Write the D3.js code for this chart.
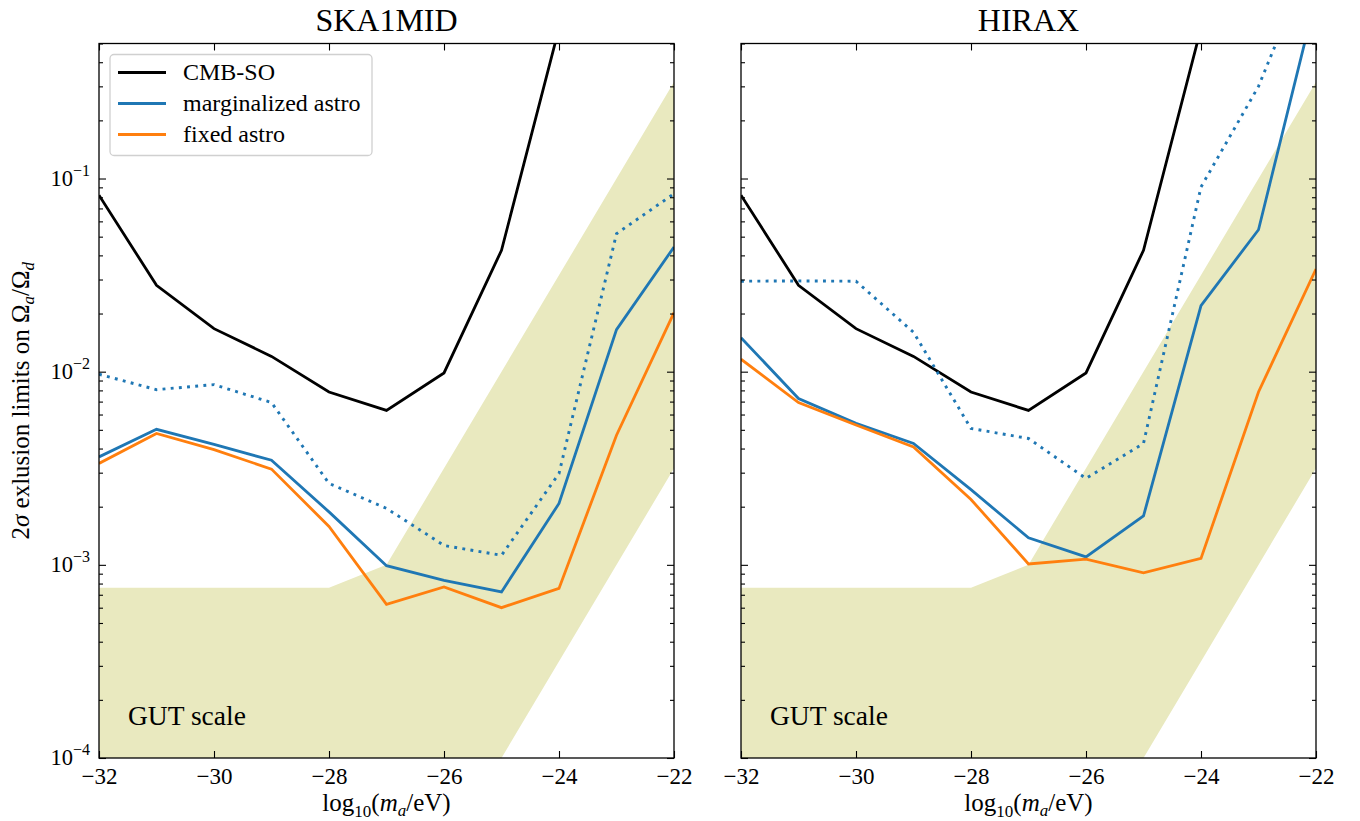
<!DOCTYPE html>
<html><head><meta charset="utf-8">
<script src="https://cdn.jsdelivr.net/npm/d3@7"></script>
<style>
body{margin:0;background:#fff;}
svg text{font-family:"Liberation Serif","DejaVu Serif",serif;fill:#000;}
</style></head>
<body><svg id="c" width="1360" height="821"></svg>
<script>
// ---------- data ----------
const masses = [-32,-31,-30,-29,-28,-27,-26,-25,-24,-23,-22];
const cmbMasses = [-32,-31,-30,-29,-28,-27,-26,-25,-24];
const cmbSO = [0.082,0.028,0.0167,0.0120,0.00785,0.0063,0.00985,0.0425,0.6];

const skaMarg   = [0.00362,0.00503,0.0042,0.00348,0.00188,0.00099,0.00083,0.000724,0.00208,0.0165,0.0442];
const skaFixed  = [0.00335,0.00479,0.00395,0.00313,0.00158,0.000624,0.000769,0.0006,0.000755,0.00469,0.0202];
const skaDotted = [0.0097,0.00807,0.00857,0.00692,0.00264,0.00196,0.00126,0.00112,0.00297,0.0518,0.0834];

const hiraxMarg   = [0.015,0.00726,0.0054,0.00425,0.00245,0.00138,0.0011,0.00179,0.022,0.0543,0.87];
const hiraxFixed  = [0.0116,0.00692,0.0053,0.00408,0.00218,0.00101,0.00107,0.00091,0.00108,0.00785,0.034];
const hiraxDotted = [0.0294,0.0295,0.0294,0.016,0.00508,0.00451,0.0028,0.00425,0.0904,0.30,1.6];

const gutX = [-32,-32,-28,-27,-22,-22,-25];
const gutY = [0.0001,0.00076,0.00076,0.001,0.316,0.00316,0.0001];

const xTicks = [-32,-30,-28,-26,-24,-22];
const yTicks = [1e-4,1e-3,1e-2,1e-1];
const yTickExp = ["\u22124","\u22123","\u22122","\u22121"];
const titles = ["SKA1MID","HIRAX"];
const legendLabels = ["CMB-SO","marginalized astro","fixed astro"];
const colors = {cmb:"#000000", marg:"#1f77b4", fixed:"#ff7f0e", gut:"#e9e9bf"};

// ---------- layout ----------
const svg = d3.select("#c");
const plotTop = 43.5, plotBottom = 758, pw = 575;
const panelLefts = [99, 741];
const ph = plotBottom-plotTop;
const x = d3.scaleLinear().domain([-32,-22]).range([0,pw]);
const y = d3.scaleLog().domain([1e-4,0.5]).range([ph,0]);

const panels = [
  {marg:skaMarg, fixed:skaFixed, dotted:skaDotted},
  {marg:hiraxMarg, fixed:hiraxFixed, dotted:hiraxDotted}
];

const line = d3.line().x(d=>x(d[0])).y(d=>y(d[1]));
const LW = 2.8;

panels.forEach((p,i)=>{
  const g = svg.append("g").attr("transform",`translate(${panelLefts[i]},${plotTop})`);
  const cid = "clip"+i;
  g.append("clipPath").attr("id",cid).append("rect").attr("width",pw).attr("height",ph);
  const pg = g.append("g").attr("clip-path",`url(#${cid})`);

  pg.append("path")
    .attr("d", line(gutX.map((v,k)=>[v,gutY[k]]))+"Z")
    .attr("fill",colors.gut).attr("stroke","none");

  pg.append("path").attr("d",line(cmbMasses.map((m,k)=>[m,cmbSO[k]])))
    .attr("fill","none").attr("stroke",colors.cmb).attr("stroke-width",LW);
  pg.append("path").attr("d",line(masses.map((m,k)=>[m,p.marg[k]])))
    .attr("fill","none").attr("stroke",colors.marg).attr("stroke-width",LW);
  pg.append("path").attr("d",line(masses.map((m,k)=>[m,p.fixed[k]])))
    .attr("fill","none").attr("stroke",colors.fixed).attr("stroke-width",LW);
  pg.append("path").attr("d",line(masses.map((m,k)=>[m,p.dotted[k]])))
    .attr("fill","none").attr("stroke",colors.marg).attr("stroke-width",2.9)
    .attr("stroke-dasharray","2.9,5.3");

  g.append("text").attr("x",29).attr("y",725-plotTop).attr("font-size",27.5).text("GUT scale");

  const xb = d3.axisBottom(x).tickValues(xTicks).tickSizeInner(-7).tickSizeOuter(0).tickPadding(10);
  const gx = g.append("g").attr("transform",`translate(0,${ph})`).call(xb);
  gx.selectAll("text").attr("font-size",23).attr("font-family","Liberation Serif");
  g.append("g").call(d3.axisTop(x).tickValues(xTicks).tickSizeInner(-7).tickSizeOuter(0).tickFormat(""));

  const minor = [];
  for(let e=-4;e<0;e++) for(let m=2;m<=9;m++){const v=m*Math.pow(10,e); if(v<=0.5) minor.push(v);}
  g.append("g").call(d3.axisLeft(y).tickValues(yTicks).tickSizeInner(-7).tickSizeOuter(0).tickFormat(""));
  g.append("g").call(d3.axisLeft(y).tickValues(minor).tickSizeInner(-4).tickSizeOuter(0).tickFormat(""));
  g.append("g").attr("transform",`translate(${pw},0)`).call(d3.axisRight(y).tickValues(yTicks).tickSizeInner(-7).tickSizeOuter(0).tickFormat(""));
  g.append("g").attr("transform",`translate(${pw},0)`).call(d3.axisRight(y).tickValues(minor).tickSizeInner(-4).tickSizeOuter(0).tickFormat(""));
  g.selectAll(".domain").remove();
  g.selectAll(".tick line").attr("stroke","#000").attr("stroke-width",1.1);

  g.append("rect").attr("width",pw).attr("height",ph).attr("fill","none").attr("stroke","#000").attr("stroke-width",1.3);

  if(i===0){
    yTicks.forEach((v,k)=>{
      const t = g.append("text").attr("x",-9).attr("y",y(v)+7).attr("text-anchor","end").attr("font-size",22.5);
      t.append("tspan").text("10");
      t.append("tspan").attr("font-size",16).attr("dy",-10).text(yTickExp[k]);
    });
  }

  svg.append("text").attr("x",panelLefts[i]+pw/2).attr("y",31).attr("text-anchor","middle")
    .attr("font-size",32).text(titles[i]);

  const xlab = svg.append("text").attr("x",panelLefts[i]+pw/2).attr("y",811).attr("text-anchor","middle").attr("font-size",25);
  xlab.append("tspan").text("log");
  xlab.append("tspan").attr("font-size",17).attr("dy",6).text("10");
  xlab.append("tspan").attr("dy",-6).text("(");
  xlab.append("tspan").attr("font-style","italic").text("m");
  xlab.append("tspan").attr("font-size",17).attr("font-style","italic").attr("dy",5).text("a");
  xlab.append("tspan").attr("dy",-5).text("/eV)");

  if(i===0){
    const lg = g.append("g").attr("transform","translate(11,11)");
    lg.append("rect").attr("width",262).attr("height",101).attr("rx",4)
      .attr("fill","#fff").attr("fill-opacity",0.85).attr("stroke","#d0d0d0").attr("stroke-width",1.3);
    const lc = [colors.cmb,colors.marg,colors.fixed];
    legendLabels.forEach((lab,k)=>{
      const yy = 18 + k*31;
      lg.append("line").attr("x1",8).attr("x2",56).attr("y1",yy).attr("y2",yy).attr("stroke",lc[k]).attr("stroke-width",LW);
      lg.append("text").attr("x",73).attr("y",yy+7).attr("font-size",24).text(lab);
    });
  }
});

const ylab = svg.append("text").attr("transform",`translate(29,${(plotTop+plotBottom)/2}) rotate(-90)`)
  .attr("text-anchor","middle").attr("font-size",25);
ylab.append("tspan").text("2");
ylab.append("tspan").attr("font-style","italic").text("\u03c3");
ylab.append("tspan").text(" exlusion limits on \u03a9");
ylab.append("tspan").attr("font-size",17).attr("font-style","italic").attr("dy",5).text("a");
ylab.append("tspan").attr("dy",-5).text("/\u03a9");
ylab.append("tspan").attr("font-size",17).attr("font-style","italic").attr("dy",5).text("d");
</script></body></html>
